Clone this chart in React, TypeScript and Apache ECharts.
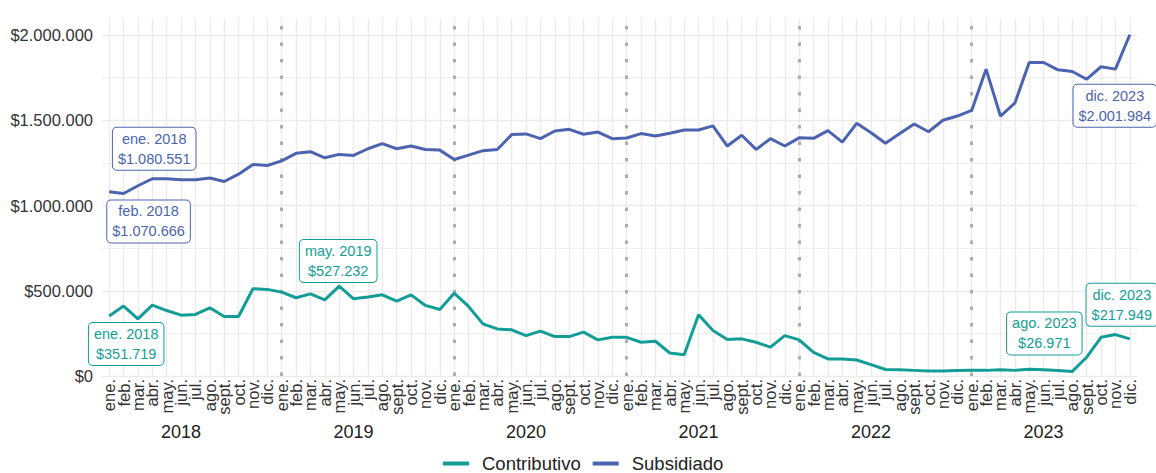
import React, { useEffect, useRef } from "react";
import * as echarts from "echarts";

const years = ["2018", "2019", "2020", "2021", "2022", "2023"];
const monthAbbr = ["ene.", "feb.", "mar.", "abr.", "may.", "jun.", "jul.", "ago.", "sept.", "oct.", "nov.", "dic."];

const subsidiado = [
  1080551, 1070666, 1116000, 1157000, 1157000, 1151000, 1151000, 1161000, 1141000, 1184000, 1241000, 1235000,
  1262000, 1306000, 1316000, 1280000, 1300000, 1294000, 1333000, 1363000, 1333000, 1349000, 1329000, 1325000,
  1270000, 1296000, 1322000, 1329000, 1416000, 1420000, 1392000, 1437000, 1447000, 1418000, 1431000, 1392000,
  1396000, 1422000, 1408000, 1424000, 1443000, 1443000, 1467000, 1349000, 1412000, 1329000, 1392000, 1349000,
  1397000, 1394000, 1439000, 1372000, 1482000, 1427000, 1365000, 1422000, 1478000, 1433000, 1500000, 1525000,
  1558000, 1800000, 1525000, 1600000, 1839000, 1839000, 1796000, 1786000, 1741000, 1814000, 1800000, 2001984,
];

const contributivo = [
  351719, 410000, 335000, 416000, 384000, 357000, 361000, 400000, 349000, 349000, 512000, 508000,
  492000, 459000, 482000, 447000, 527232, 453000, 463000, 476000, 439000, 476000, 414000, 390000,
  486000, 408000, 306000, 276000, 271000, 237000, 263000, 231000, 231000, 257000, 212000, 227000,
  227000, 198000, 204000, 135000, 125000, 359000, 267000, 214000, 218000, 198000, 169000, 237000,
  212000, 139000, 100000, 100000, 94000, 67000, 38000, 36000, 33000, 30000, 29000, 32000,
  33000, 33000, 36000, 33000, 40000, 36000, 32000, 26971, 110000, 227000, 243000, 217949,
];

const yTicks = [0, 500000, 1000000, 1500000, 2000000];

// annotated points: [series, index, label offset x, offset y]
const annotations: [string, number, number, number][] = [
  ["Subsidiado", 0, 45, -43],
  ["Subsidiado", 1, 25, 28],
  ["Subsidiado", 71, -15, 71],
  ["Contributivo", 0, 17, 28],
  ["Contributivo", 16, -1, -25],
  ["Contributivo", 67, -28, -38],
  ["Contributivo", 71, -8, -34],
];

const BLUE = "#4C64AF";
const TEAL = "#129E97";
const FONT = "'Liberation Sans', Arial, Helvetica, sans-serif";

const cats = years.flatMap((y) => monthAbbr.map((_, i) => `${y}-${i + 1}`));
const fmt = (v: number) => "$" + Math.round(v).toString().replace(/\B(?=(\d{3})+(?!\d))/g, ".");
const catLabel = (i: number) => `${monthAbbr[i % 12]} ${years[Math.floor(i / 12)]}`;

export default function App() {
  const ref = useRef<HTMLDivElement>(null);
  useEffect(() => {
    if (!ref.current) return;
    const chart = echarts.init(ref.current, null, { renderer: "svg" });
    const dataMap: Record<string, number[]> = { Subsidiado: subsidiado, Contributivo: contributivo };
    const colorMap: Record<string, string> = { Subsidiado: BLUE, Contributivo: TEAL };
    const markPts = (name: string) => ({
      z: 10,
      symbol: "circle",
      symbolSize: 0,
      silent: true,
      data: annotations
        .filter((a) => a[0] === name)
        .map(([s, i, dx, dy]) => ({
          coord: [cats[i], dataMap[s][i]],
          label: {
            show: true,
            position: "inside",
            offset: [dx, dy],
            formatter: `${catLabel(i)}\n${fmt(dataMap[s][i])}`,
            color: colorMap[s],
            fontSize: 14.5,
            lineHeight: 20,
            fontFamily: FONT,
            align: "center",
            backgroundColor: "#ffffff",
            borderColor: colorMap[s],
            borderWidth: 1,
            borderRadius: 4,
            padding: [2, 5, 0, 5],
          },
        })),
    });
    const option: any = {
      animation: false,
      textStyle: { fontFamily: FONT },
      grid: { left: 102, right: 19, top: 18, bottom: 97, containLabel: false },
      legend: {
        data: ["Contributivo", "Subsidiado"],
        top: 449,
        left: 438,
        itemWidth: 26,
        itemHeight: 4,
        itemGap: 12,
        icon: "rect",
        textStyle: { fontSize: 18.5, color: "#222", fontFamily: FONT, padding: [0, 0, 0, 8] },
      },
      xAxis: [
        {
          type: "category",
          data: cats,
          boundaryGap: true,
          axisLine: { show: false },
          axisTick: { show: false },
          splitLine: { show: false },
          axisLabel: {
            interval: 0,
            rotate: 90,
            margin: 3,
            fontSize: 16.5,
            color: "#333",
            fontFamily: FONT,
            formatter: (_v: string, i: number) => monthAbbr[i % 12],
          },
        },
        {
          type: "category",
          data: cats,
          boundaryGap: true,
          position: "bottom",
          offset: 45,
          axisLine: { show: false },
          axisTick: { show: false },
          splitLine: { show: false },
          axisLabel: {
            interval: (i: number) => i % 12 === 5,
            margin: 2,
            fontSize: 18,
            color: "#222",
            fontFamily: FONT,
            formatter: (_v: string, i: number) => years[Math.floor(i / 12)],
          },
        },
      ],
      yAxis: {
        type: "value",
        min: 0,
        max: 2100000,
        interval: 500000,
        axisLine: { show: false },
        axisTick: { show: false },
        axisLabel: {
          fontSize: 16.5,
          color: "#333",
          margin: 9,
          fontFamily: FONT,
          showMaxLabel: false,
          formatter: (v: number) => (yTicks.includes(v) ? fmt(v) : ""),
        },
        splitLine: { show: true, showMaxLine: false, lineStyle: { color: "#EBEBEB", width: 1.4 } },
        minorTick: { show: false, splitNumber: 2 },
        minorSplitLine: { show: true, lineStyle: { color: "#EFEFEF", width: 1.2 } },
      },
      series: [
        {
          name: "grid-v",
          type: "line",
          data: [],
          z: 1,
          silent: true,
          markLine: {
            z: 1,
            silent: true,
            symbol: ["none", "none"],
            label: { show: false },
            lineStyle: { color: "#EBEBEB", width: 1.4, type: "solid" },
            data: cats.map((c) => ({ xAxis: c })),
          },
        },
        {
          name: "grid-year",
          type: "line",
          data: [],
          z: 1,
          silent: true,
          markLine: {
            z: 1,
            silent: true,
            symbol: ["none", "none"],
            label: { show: false },
            lineStyle: { color: "#ADADAD", width: 3, type: [3.5, 13], cap: "butt" },
            data: cats.filter((_, i) => i % 12 === 0 && i > 0).map((c) => ({ xAxis: c })),
          },
        },
        {
          name: "Contributivo",
          type: "line",
          data: contributivo,
          z: 3,
          showSymbol: false,
          symbol: "none",
          color: TEAL,
          lineStyle: { color: TEAL, width: 3 },
          markPoint: markPts("Contributivo"),
        },
        {
          name: "Subsidiado",
          type: "line",
          data: subsidiado,
          z: 3,
          showSymbol: false,
          symbol: "none",
          color: BLUE,
          lineStyle: { color: BLUE, width: 3 },
          markPoint: markPts("Subsidiado"),
        },
      ],
    };
    chart.setOption(option);
    return () => chart.dispose();
  }, []);
  return (
    <div
      ref={ref}
      style={{ position: "fixed", left: 0, top: 0, width: 1156, height: 473, background: "#fff" }}
    />
  );
}
